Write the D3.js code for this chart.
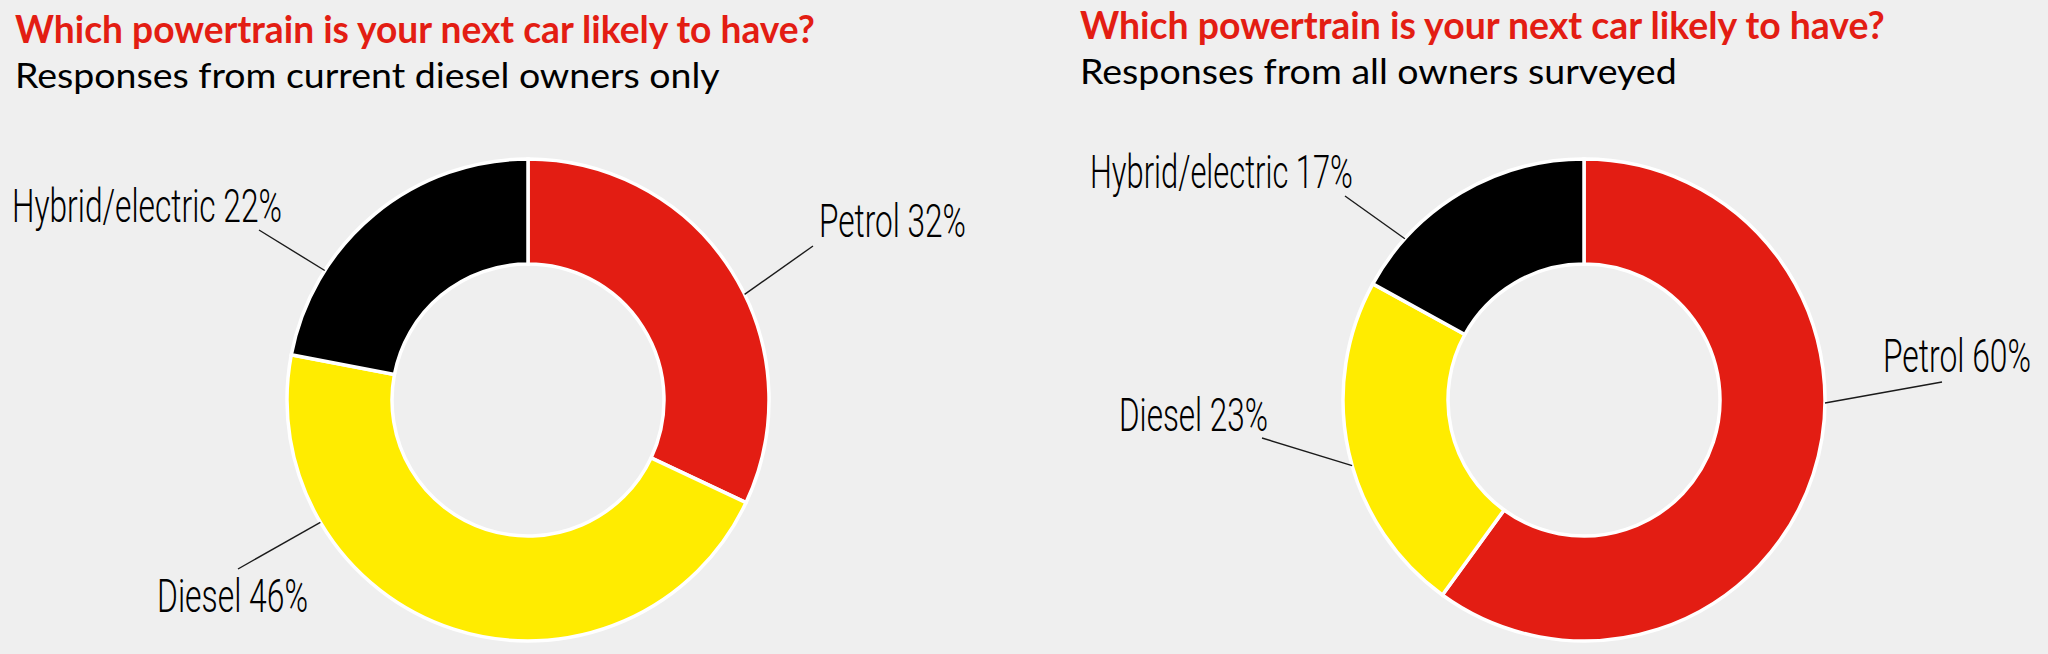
<!DOCTYPE html>
<html>
<head>
<meta charset="utf-8">
<script src="https://cdn.jsdelivr.net/npm/d3@7"></script>
<style>
  body { margin: 0; background: #efefef; }
  svg { display: block; }
</style>
</head>
<body>
<div id="chart"></div>
<script>
// survey data
var categories = ["Petrol", "Diesel", "Hybrid/electric"];
var dieselOwners = [32, 46, 22];
var allOwners = [60, 23, 17];

var titles = [
    "Which powertrain is your next car likely to have?",
    "Which powertrain is your next car likely to have?"
];
var subtitles = [
    "Responses from current diesel owners only",
    "Responses from all owners surveyed"
];

var colour = d3.scaleOrdinal()
    .domain(categories)
    .range(["#e31d13", "#ffec00", "#000000"]);

// hand placed layout for each panel (title widths, label spots, leader angles in degrees)
var panels = [
    {
        values: dieselOwners, cx: 528, cy: 400, tx: 15, ty: 43, tw: 800, sy: 88, sw: 705,
        labels: [
            {x: 819, y: 237, w: 147, lx: 813, ly: 246, angle: 64},
            {x: 157, y: 612, w: 151, lx: 238, ly: 569, angle: 239.5},
            {x: 12,  y: 222, w: 270, lx: 259, ly: 230, angle: 302.5}
        ]
    },
    {
        values: allOwners, cx: 1584, cy: 400, tx: 1080, ty: 39, tw: 805, sy: 84, sw: 597,
        labels: [
            {x: 1883, y: 372, w: 148, lx: 1942, ly: 382, angle: 90.7},
            {x: 1119, y: 431, w: 149, lx: 1262, ly: 438, angle: 254.2},
            {x: 1090, y: 188, w: 263, lx: 1345, ly: 196, angle: 312}
        ]
    }
];

var width = 2048;
var height = 654;
var outerR = 241;
var innerR = 136;

var svg = d3.select("#chart")
    .append("svg")
    .attr("width", width)
    .attr("height", height);

svg.append("rect")
    .attr("width", width)
    .attr("height", height)
    .attr("fill", "#efefef");

var pie = d3.pie()
    .sort(null)
    .value(function(d) { return d.value; });

var arc = d3.arc()
    .innerRadius(innerR)
    .outerRadius(outerR);

// zero width arc on the outer edge, used to find where leaders touch the ring
var edge = d3.arc()
    .innerRadius(outerR)
    .outerRadius(outerR);

// put a text at x,y and squeeze it sideways so it spans w pixels
function fitText(sel, x, y, w) {
    var natural = sel.node().getComputedTextLength();
    sel.attr("transform", "translate(" + x + "," + y + ") scale(" + (w / natural) + ",1)");
    return sel;
}

function drawPanel(p, i) {
    var data = categories.map(function(c, k) { return {name: c, value: p.values[k]}; });

    var t = svg.append("text")
        .attr("font-family", "Lato, 'Open Sans', sans-serif")
        .attr("font-weight", 700)
        .attr("font-size", 38)
        .attr("fill", "#e31d13")
        .text(titles[i]);
    fitText(t, p.tx, p.ty, p.tw);

    var s = svg.append("text")
        .attr("font-family", "Lato, 'Open Sans', sans-serif")
        .attr("font-weight", 400)
        .attr("font-size", 35)
        .attr("fill", "#000")
        .text(subtitles[i]);
    fitText(s, p.tx, p.sy, p.sw);

    var g = svg.append("g")
        .attr("transform", "translate(" + p.cx + "," + p.cy + ")");

    g.selectAll("path")
        .data(pie(data))
        .enter()
        .append("path")
        .attr("d", arc)
        .attr("fill", function(d) { return colour(d.data.name); })
        .attr("stroke", "#ffffff")
        .attr("stroke-width", 3.5)
        .attr("stroke-linejoin", "miter");

    // leader lines and labels
    data.forEach(function(d, k) {
        var l = p.labels[k];
        var a = l.angle * Math.PI / 180;
        var end = edge.centroid({startAngle: a, endAngle: a});

        svg.append("line")
            .attr("x1", l.lx)
            .attr("y1", l.ly)
            .attr("x2", p.cx + end[0])
            .attr("y2", p.cy + end[1])
            .attr("stroke", "#1a1a1a")
            .attr("stroke-width", 1.4);

        var lab = svg.append("text")
            .attr("font-family", "Roboto, 'Noto Sans', sans-serif")
            .attr("font-weight", 300)
            .attr("font-size", 47)
            .attr("fill", "#000")
            .text(d.name + " " + d.value + "%");
        fitText(lab, l.x, l.y, l.w);
    });
}

panels.forEach(drawPanel);
</script>
</body>
</html>
